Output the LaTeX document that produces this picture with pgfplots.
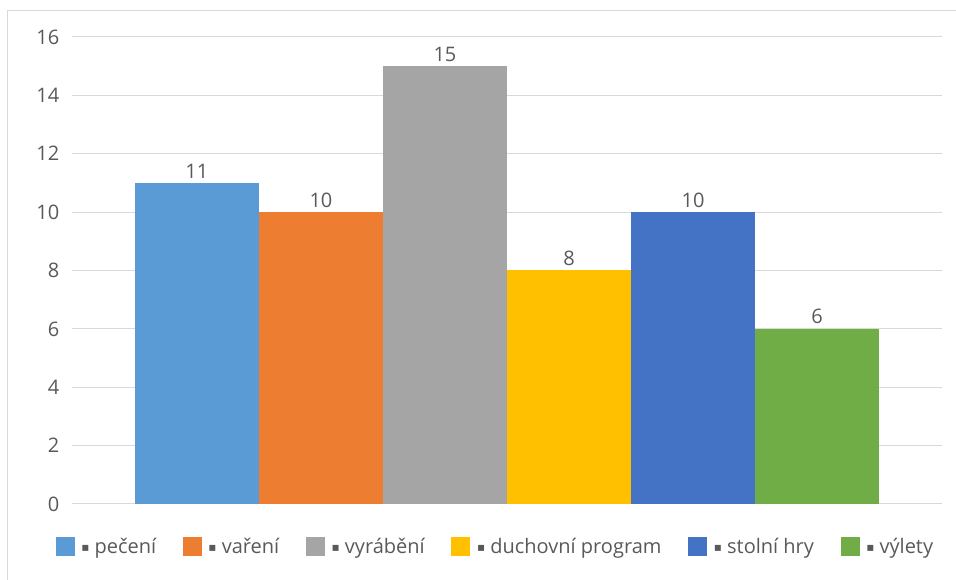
\documentclass[border=0pt]{standalone}
\usepackage{fontspec}
\setmainfont{Open Sans}
\newfontfamily\dejavu{DejaVu Sans}
\usepackage{graphicx}
\usepackage{pgfplots}
\pgfplotsset{compat=1.18}
\definecolor{txt}{HTML}{595959}
\definecolor{gridc}{HTML}{D9D9D9}
\definecolor{c1}{HTML}{5B9BD5}
\definecolor{c2}{HTML}{ED7D31}
\definecolor{c3}{HTML}{A5A5A5}
\definecolor{c4}{HTML}{FFC000}
\definecolor{c5}{HTML}{4472C4}
\definecolor{c6}{HTML}{70AD47}
\newcommand{\bul}{\hspace{3pt}{\dejavu\raisebox{0.12em}{\scalebox{0.6}{▪}}}\ }
\begin{document}
\begin{tikzpicture}
\useasboundingbox (-54pt,-57pt) rectangle (663pt,378pt);
\draw[gridc, line width=0.75pt] (-48pt,-60pt) -- (-48pt,369.75pt) -- (670pt,369.75pt);
\begin{axis}[
  at={(0,0)}, anchor=south west,
  scale only axis, width=652.5pt, height=350.25pt,
  xmin=-1.007, xmax=6.007, ymin=0, ymax=16,
  ytick={0,2,...,16}, xtick=\empty,
  ymajorgrids, grid style={draw=gridc, line width=0.75pt},
  axis line style={draw=none}, tick style={draw=none},
  font=\fontsize{15}{18}\selectfont,
  /pgf/number format/assume math mode=true,
  yticklabel style={text=txt, xshift=-6pt},
  mybar/.style={ybar, fill=#1, draw=none, bar shift=0pt, bar width=1},
  nodes near coords,
  every node near coord/.append style={text=txt},
  legend image code/.code={\path[fill] (0pt,-7.1pt) rectangle (14.25pt,7.1pt);},
  legend columns=6,
  legend style={draw=none, fill=none, at={(0.487,-0.092)}, anchor=center,
    text=txt, font=\fontsize{15}{18}\selectfont,
    /tikz/every even column/.append style={column sep=18pt}},
]
\addplot[mybar=c1] coordinates {(0,11)};
\addlegendentry{\bul pečení}
\addplot[mybar=c2] coordinates {(1,10)};
\addlegendentry{\bul vaření}
\addplot[mybar=c3] coordinates {(2,15)};
\addlegendentry{\bul vyrábění}
\addplot[mybar=c4] coordinates {(3,8)};
\addlegendentry{\bul duchovní program}
\addplot[mybar=c5] coordinates {(4,10)};
\addlegendentry{\bul stolní hry}
\addplot[mybar=c6] coordinates {(5,6)};
\addlegendentry{\bul výlety}
\end{axis}
\end{tikzpicture}
\end{document}
